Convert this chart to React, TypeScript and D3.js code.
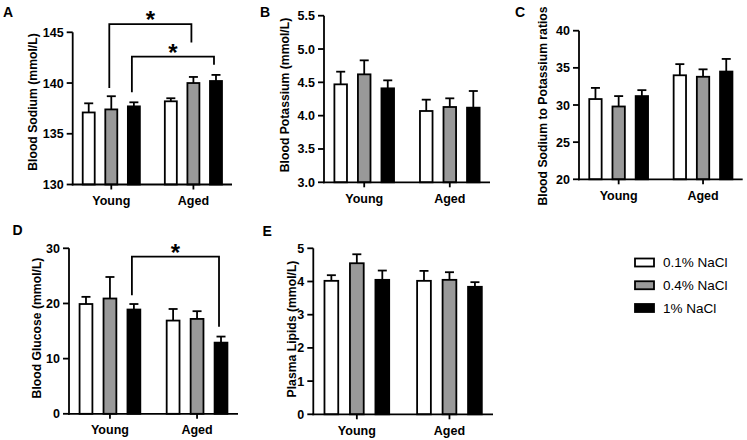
import React from "react";
import * as d3 from "d3";

const groups = ["Young", "Aged"];
const series = ["0.1% NaCl", "0.4% NaCl", "1% NaCl"];
const seriesFill = ["#ffffff", "#999999", "#000000"];

// means and upper SEM, [group][series]
const sodiumMean = [[137.1, 137.4, 137.7], [138.2, 140.0, 140.2]];
const sodiumSem = [[0.9, 1.3, 0.4], [0.3, 0.6, 0.6]];
const potassiumMean = [[4.47, 4.62, 4.41], [4.07, 4.13, 4.12]];
const potassiumSem = [[0.19, 0.21, 0.12], [0.17, 0.13, 0.25]];
const ratioMean = [[30.8, 29.8, 31.2], [34.0, 33.8, 34.5]];
const ratioSem = [[1.5, 1.4, 0.8], [1.5, 1.0, 1.7]];
const glucoseMean = [[19.9, 20.9, 18.9], [16.9, 17.2, 12.9]];
const glucoseSem = [[1.3, 3.9, 1.0], [2.1, 1.4, 1.1]];
const lipidMean = [[4.02, 4.55, 4.05], [4.02, 4.05, 3.84]];
const lipidSem = [[0.17, 0.27, 0.28], [0.3, 0.23, 0.14]];

const sodiumTicks = [130, 135, 140, 145];
const potassiumTicks = [3.0, 3.5, 4.0, 4.5, 5.0, 5.5];
const ratioTicks = [20, 25, 30, 35, 40];
const glucoseTicks = [0, 10, 20, 30];
const lipidTicks = [0, 1, 2, 3, 4, 5];

// significance brackets: [group, series] -> [group, series], top, left leg end, right leg end
type Bracket = { a: [number, number]; b: [number, number]; top: number; aEnd: number; bEnd: number };
const sodiumBrackets: Bracket[] = [
  { a: [0, 1], b: [1, 1], top: 145.8, aEnd: 139.5, bEnd: 144.0 },
  { a: [0, 2], b: [1, 2], top: 142.6, aEnd: 139.1, bEnd: 141.8 },
];
const glucoseBrackets: Bracket[] = [
  { a: [0, 2], b: [1, 2], top: 28.5, aEnd: 21.5, bEnd: 15.8 },
];

type Panel = {
  letter: string;
  letterX: number;
  letterY: number;
  title: string;
  titleX: number;
  titleY: number;
  x0: number;
  x1: number;
  yTop: number;
  yBot: number;
  ticks: number[];
  fmt: (v: number) => string;
  mean: number[][];
  sem: number[][];
  brackets: Bracket[];
};

const panels: Panel[] = [
  {
    letter: "A", letterX: 3, letterY: 16.5,
    title: "Blood Sodium (mmol/L)", titleX: 33, titleY: 102,
    x0: 72.7, x1: 232, yTop: 32.3, yBot: 184.5,
    ticks: sodiumTicks, fmt: d3.format("d"),
    mean: sodiumMean, sem: sodiumSem, brackets: sodiumBrackets,
  },
  {
    letter: "B", letterX: 260, letterY: 16.5,
    title: "Blood Potassium (mmol/L)", titleX: 285, titleY: 95,
    x0: 324, x1: 490, yTop: 15.7, yBot: 182.3,
    ticks: potassiumTicks, fmt: d3.format(".1f"),
    mean: potassiumMean, sem: potassiumSem, brackets: [],
  },
  {
    letter: "C", letterX: 515, letterY: 16.5,
    title: "Blood Sodium to Potassium ratios", titleX: 543, titleY: 106,
    x0: 579, x1: 742.7, yTop: 30.7, yBot: 179.3,
    ticks: ratioTicks, fmt: d3.format("d"),
    mean: ratioMean, sem: ratioSem, brackets: [],
  },
  {
    letter: "D", letterX: 12.5, letterY: 235,
    title: "Blood Glucose (mmol/L)", titleX: 36.5, titleY: 328,
    x0: 69, x1: 238, yTop: 248.3, yBot: 413.8,
    ticks: glucoseTicks, fmt: d3.format("d"),
    mean: glucoseMean, sem: glucoseSem, brackets: glucoseBrackets,
  },
  {
    letter: "E", letterX: 262.5, letterY: 235.5,
    title: "Plasma Lipids (mmol/L)", titleX: 291.5, titleY: 329,
    x0: 313.3, x1: 493, yTop: 248.3, yBot: 414.3,
    ticks: lipidTicks, fmt: d3.format("d"),
    mean: lipidMean, sem: lipidSem, brackets: [],
  },
];

const FONT = "'Liberation Sans', Arial, Helvetica, sans-serif";
const SW = 1.8;

function BarPanel({ p }: { p: Panel }) {
  const y = d3
    .scaleLinear()
    .domain([p.ticks[0], p.ticks[p.ticks.length - 1]])
    .range([p.yBot, p.yTop]);
  const gx = d3.scalePoint<string>().domain(groups).range([p.x0, p.x1]).padding(0.47);
  const step = gx.step();
  const sx = d3
    .scalePoint<string>()
    .domain(series)
    .range([-step * 0.275, step * 0.275]);
  const barW = step * 0.168;
  const capW = 9;
  const cx = (g: number, s: number) => (gx(groups[g]) as number) + (sx(series[s]) as number);

  return (
    <g>
      <text x={p.letterX} y={p.letterY} fontFamily={FONT} fontWeight="bold" fontSize={14}>
        {p.letter}
      </text>
      <text
        transform={`translate(${p.titleX},${p.titleY}) rotate(-90)`}
        textAnchor="middle"
        dy="0.36em"
        fontFamily={FONT}
        fontWeight="bold"
        fontSize={12.2}
      >
        {p.title}
      </text>

      {/* bars */}
      {groups.map((g, gi) =>
        series.map((s, si) => {
          const x = cx(gi, si);
          const top = y(p.mean[gi][si]);
          const errTop = y(p.mean[gi][si] + p.sem[gi][si]);
          return (
            <g key={g + s}>
              <line x1={x} x2={x} y1={top} y2={errTop} stroke="#000" strokeWidth={SW} />
              <line x1={x - capW / 2} x2={x + capW / 2} y1={errTop} y2={errTop} stroke="#000" strokeWidth={SW} />
              <rect
                x={x - barW / 2 + SW / 2}
                y={top}
                width={barW - SW}
                height={p.yBot - top}
                fill={seriesFill[si]}
                stroke="#000"
                strokeWidth={SW}
              />
            </g>
          );
        })
      )}

      {/* y axis */}
      <line x1={p.x0} x2={p.x0} y1={p.yTop} y2={p.yBot + SW / 2} stroke="#000" strokeWidth={SW} />
      {p.ticks.map((t) => (
        <g key={t}>
          <line x1={p.x0 - 6} x2={p.x0} y1={y(t)} y2={y(t)} stroke="#000" strokeWidth={SW} />
          <text
            x={p.x0 - 9}
            y={y(t)}
            dy="0.36em"
            textAnchor="end"
            fontFamily={FONT}
            fontWeight="bold"
            fontSize={12.5}
          >
            {p.fmt(t)}
          </text>
        </g>
      ))}

      {/* x axis */}
      <line x1={p.x0 - SW / 2} x2={p.x1} y1={p.yBot} y2={p.yBot} stroke="#000" strokeWidth={SW} />
      {groups.map((g) => (
        <g key={g}>
          <line x1={gx(g)} x2={gx(g)} y1={p.yBot} y2={p.yBot + 5} stroke="#000" strokeWidth={SW} />
          <text
            x={gx(g)}
            y={p.yBot + 20.5}
            textAnchor="middle"
            fontFamily={FONT}
            fontWeight="bold"
            fontSize={12.5}
          >
            {g}
          </text>
        </g>
      ))}

      {/* significance */}
      {p.brackets.map((b, i) => {
        const xa = cx(b.a[0], b.a[1]) - 2;
        const xb = cx(b.b[0], b.b[1]) - 2;
        const yt = y(b.top);
        return (
          <g key={i}>
            <path
              d={`M${xa},${y(b.aEnd)}V${yt}H${xb}V${y(b.bEnd)}`}
              fill="none"
              stroke="#000"
              strokeWidth={SW}
            />
            <text
              x={(xa + xb) / 2}
              y={yt + 4}
              textAnchor="middle"
              fontFamily={FONT}
              fontWeight="bold"
              fontSize={24}
            >
              *
            </text>
          </g>
        );
      })}
    </g>
  );
}

function Legend() {
  const ly = d3.scalePoint<string>().domain(series).range([262.5, 308]);
  return (
    <g>
      {series.map((s, i) => (
        <g key={s}>
          <rect
            x={635}
            y={(ly(s) as number) - 4}
            width={19}
            height={8}
            fill={seriesFill[i]}
            stroke="#000"
            strokeWidth={SW}
          />
          <text x={663} y={ly(s)} dy="0.36em" fontFamily={FONT} fontSize={13.5}>
            {s}
          </text>
        </g>
      ))}
    </g>
  );
}

export default function App() {
  return (
    <svg
      width={747}
      height={440}
      viewBox="0 0 747 440"
      style={{ position: "absolute", left: 0, top: 0, background: "#fff" }}
    >
      <rect width={747} height={440} fill="#fff" />
      {panels.map((p) => (
        <BarPanel key={p.letter} p={p} />
      ))}
      <Legend />
    </svg>
  );
}
